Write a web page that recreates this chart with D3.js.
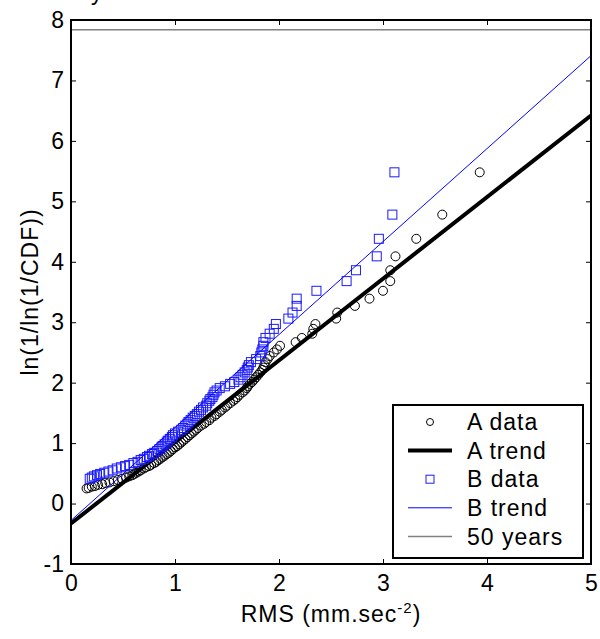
<!DOCTYPE html>
<html>
<head>
<meta charset="utf-8">
<script src="https://cdn.jsdelivr.net/npm/d3@7"></script>
<style>
  body { margin: 0; background: #fff; }
  svg text { font-family: "Liberation Sans", Arial, Helvetica, sans-serif; }
</style>
</head>
<body>
<div id="chart"></div>
<script>
// reduced variate (same ranks for both sets)
const yRank = [5.48, 4.78, 4.38, 4.09, 3.86, 3.68, 3.52, 3.39, 3.27, 3.16,
  3.06, 2.97, 2.89, 2.81, 2.74, 2.67, 2.61, 2.55, 2.50, 2.44,
  2.39, 2.34, 2.29, 2.25,
  2.21, 2.17, 2.13, 2.09, 2.05, 2.01, 1.98, 1.94, 1.91, 1.87,
  1.84, 1.80, 1.76, 1.73, 1.70, 1.66, 1.62, 1.59, 1.55, 1.52,
  1.48, 1.45, 1.42, 1.38, 1.35, 1.32, 1.29, 1.25, 1.22, 1.19,
  1.16, 1.13, 1.10, 1.07, 1.04, 1.01, 0.98, 0.95, 0.93, 0.90,
  0.87, 0.84, 0.82, 0.79, 0.77, 0.74, 0.72, 0.69, 0.67, 0.64,
  0.62, 0.60, 0.58, 0.55, 0.53, 0.51, 0.49, 0.47, 0.45, 0.43,
  0.41, 0.39, 0.37, 0.35, 0.34, 0.32, 0.31, 0.29, 0.28, 0.26, 0.25]

const xA = [3.93, 3.57, 3.32, 3.12, 3.07, 3.07, 3.00, 2.87, 2.73, 2.56,
  2.55, 2.35, 2.33, 2.32, 2.22, 2.16, 2.01, 1.98, 1.95, 1.91,
  1.89, 1.87, 1.86, 1.85,
  1.84, 1.82, 1.80, 1.78, 1.76, 1.74, 1.72, 1.70, 1.69, 1.67,
  1.65, 1.62, 1.60, 1.58, 1.56, 1.53, 1.50, 1.48, 1.45, 1.43,
  1.40, 1.38, 1.35, 1.33, 1.30, 1.28, 1.25, 1.22, 1.20, 1.18,
  1.16, 1.14, 1.12, 1.10, 1.08, 1.06, 1.04, 1.02, 1.00, 0.98,
  0.96, 0.94, 0.92, 0.90, 0.88, 0.86, 0.84, 0.82, 0.80, 0.77,
  0.75, 0.72, 0.70, 0.67, 0.65, 0.63, 0.61, 0.59, 0.56, 0.53,
  0.49, 0.45, 0.41, 0.37, 0.33, 0.30, 0.26, 0.23, 0.20, 0.17, 0.15]

const xB = [3.11, 3.09, 2.96, 2.94, 2.74, 2.65, 2.36, 2.17, 2.17, 2.13,
  2.09, 1.97, 1.95, 1.91, 1.87, 1.85, 1.85, 1.84, 1.83, 1.82,
  1.78, 1.73, 1.71, 1.70,
  1.69, 1.67, 1.65, 1.63, 1.61, 1.57, 1.53, 1.48, 1.43, 1.40,
  1.38, 1.37, 1.36, 1.34, 1.33, 1.31, 1.30, 1.27, 1.25, 1.23,
  1.21, 1.19, 1.17, 1.15, 1.13, 1.12, 1.10, 1.08, 1.06, 1.03,
  1.00, 0.98, 0.97, 0.95, 0.93, 0.92, 0.90, 0.88, 0.87, 0.85,
  0.83, 0.80, 0.78, 0.75, 0.73, 0.70, 0.67, 0.64, 0.60, 0.56,
  0.52, 0.48, 0.44, 0.40, 0.36, 0.32, 0.28, 0.25, 0.22, 0.20,
  0.18]

const trendA = [[0, -0.33], [5, 6.42]]
const trendB = [[0, -0.28], [5, 7.41]]
const years50 = [[0, 7.84], [5, 7.84]]

const xTicks = [0, 1, 2, 3, 4, 5]
const yTicks = [-1, 0, 1, 2, 3, 4, 5, 6, 7, 8]
const legendLabels = ["A data", "A trend", "B data", "B trend", "50 years"]

// ----------------------------------------------------------
const width = 600
const height = 639
const margin = {top: 20, bottom: 75, left: 71, right: 9}
const innerW = width - margin.left - margin.right
const innerH = height - margin.top - margin.bottom

const svg = d3.select("div#chart").append("svg").attr("width", width).attr("height", height)
const g = svg.append("g").attr("transform", `translate(${margin.left}, ${margin.top})`)

const x = d3.scaleLinear().domain([0, 5]).range([0, innerW])
const y = d3.scaleLinear().domain([-1, 8]).range([innerH, 0])

const dataA = xA.map((v, i) => ({x: v, y: yRank[i]}))
const dataB = xB.map((v, i) => ({x: v, y: yRank[i]}))

const line = d3.line().x(d => x(d[0])).y(d => y(d[1]))

// partly clipped title
svg.append("text").text("y").attr("x", 91).attr("y", 0).style("font-size", "23px")

//Axes (inward ticks, MATLAB box):
const fontSize = "23px"
const fmt = d => String(d)
g.append("g").attr("transform", `translate(0, ${innerH})`)
  .call(d3.axisBottom(x).tickValues(xTicks).tickFormat(fmt).tickSizeInner(-5).tickSizeOuter(0).tickPadding(11))
g.append("g")
  .call(d3.axisLeft(y).tickValues(yTicks).tickFormat(fmt).tickSizeInner(-5).tickSizeOuter(0).tickPadding(7))
g.append("g").call(d3.axisTop(x).tickValues(xTicks).tickSizeInner(-5).tickSizeOuter(0).tickFormat(""))
g.append("g").attr("transform", `translate(${innerW}, 0)`)
  .call(d3.axisRight(y).tickValues(yTicks).tickSizeInner(-5).tickSizeOuter(0).tickFormat(""))

g.selectAll(".domain").remove()
g.selectAll(".tick line").attr("stroke", "#000").attr("stroke-width", 1)
g.selectAll(".tick text").style("font-size", fontSize).attr("fill", "#000")
  .style("font-family", "'Liberation Sans', Arial, sans-serif")

// A data
g.append("g").selectAll("circle").data(dataA).enter().append("circle")
  .attr("cx", d => x(d.x)).attr("cy", d => y(d.y)).attr("r", 4.5)
  .attr("fill", "none").attr("stroke", "#000").attr("stroke-width", 1)

// A trend
g.append("path").datum(trendA).attr("d", line)
  .attr("fill", "none").attr("stroke", "#000").attr("stroke-width", 4)

// B data
g.append("g").selectAll("rect").data(dataB).enter().append("rect")
  .attr("x", d => x(d.x) - 4.5).attr("y", d => y(d.y) - 4.5)
  .attr("width", 9).attr("height", 9)
  .attr("fill", "none").attr("stroke", "#1a1aff").attr("stroke-width", 1)

// B trend
g.append("path").datum(trendB).attr("d", line)
  .attr("fill", "none").attr("stroke", "#0000ff").attr("stroke-width", 1)

// 50 years
g.append("path").datum(years50).attr("d", line)
  .attr("fill", "none").attr("stroke", "#808080").attr("stroke-width", 1.5)

// box
g.append("rect").attr("width", innerW).attr("height", innerH)
  .attr("fill", "none").attr("stroke", "#000").attr("stroke-width", 2)

// axis titles
svg.append("text")
  .attr("x", margin.left + innerW / 2).attr("y", 622)
  .attr("text-anchor", "middle").style("font-size", fontSize).style("letter-spacing", "1px")
  .call(t => {
    t.append("tspan").text("RMS (mm.sec")
    t.append("tspan").text("-2").attr("dy", -9).style("font-size", "15px")
    t.append("tspan").text(")").attr("dy", 9)
  })

svg.append("text")
  .attr("transform", `translate(38, ${margin.top + innerH / 2}) rotate(-90)`)
  .attr("text-anchor", "middle").style("font-size", fontSize).style("letter-spacing", "1px")
  .text("ln(1/ln(1/CDF))")

//Legend:
const legend = svg.append("g").attr("transform", "translate(393, 405)")
legend.append("rect").attr("width", 190).attr("height", 153)
  .attr("fill", "#fff").attr("stroke", "#000").attr("stroke-width", 2)

const rowY = i => 17 + i * 28.6
legend.append("circle").attr("cx", 37).attr("cy", rowY(0)).attr("r", 3.5)
  .attr("fill", "none").attr("stroke", "#000")
legend.append("line").attr("x1", 15).attr("x2", 59).attr("y1", rowY(1)).attr("y2", rowY(1))
  .attr("stroke", "#000").attr("stroke-width", 4)
legend.append("rect").attr("x", 33).attr("y", rowY(2) - 4).attr("width", 8).attr("height", 8)
  .attr("fill", "none").attr("stroke", "#1a1aff")
legend.append("line").attr("x1", 15).attr("x2", 59).attr("y1", rowY(3)).attr("y2", rowY(3))
  .attr("stroke", "#0000ff").attr("stroke-width", 1)
legend.append("line").attr("x1", 15).attr("x2", 59).attr("y1", rowY(4)).attr("y2", rowY(4))
  .attr("stroke", "#808080").attr("stroke-width", 1.5)

legend.selectAll("text.lab").data(legendLabels).enter().append("text")
  .attr("class", "lab")
  .attr("x", 74).attr("y", (d, i) => rowY(i)).attr("dy", "0.36em")
  .style("font-size", fontSize).style("letter-spacing", "1px")
  .text(d => d)
</script>
</body>
</html>
